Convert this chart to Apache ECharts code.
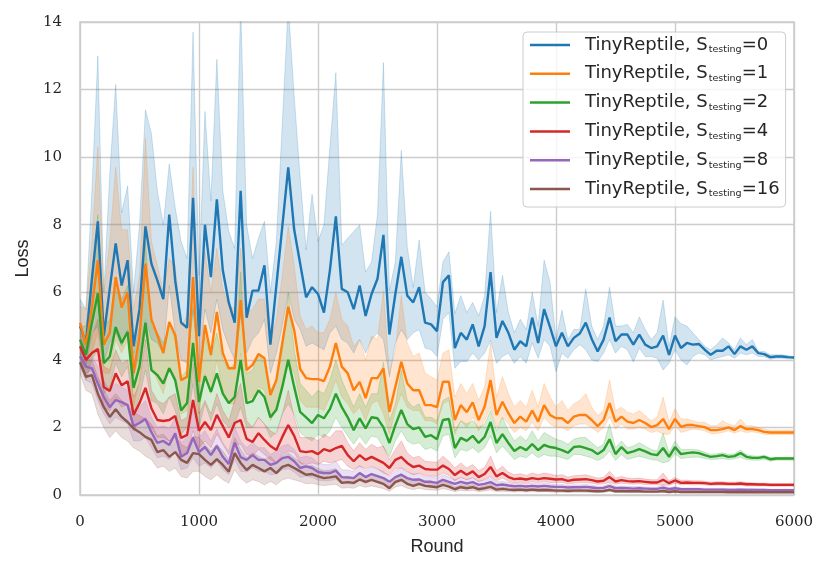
<!DOCTYPE html>
<html><head><meta charset="utf-8">
<script src="https://cdn.jsdelivr.net/npm/echarts@6/dist/echarts.min.js"></script>
<style>html,body{margin:0;padding:0;background:#fff}#c{width:830px;height:572px}</style>
</head><body><div id="c"></div>
<script>
// evaluation rounds: every 50 rounds from 0 to 6000
const rounds = Array.from({length: 121}, (_, i) => String(i * 50));
const sValues = ['0', '1', '2', '4', '8', '16'];
const colors = ['#1f77b4', '#ff7f0e', '#2ca02c', '#d62728', '#9467bd', '#8c564b'];
const xTicks = ['0', '1000', '2000', '3000', '4000', '5000', '6000'];
const yTicks = [0, 2, 4, 6, 8, 10, 12, 14];

// S_testing = 0
const mean0 = [5.0,4.5,6.4,8.1,4.7,6.1,7.45,6.2,6.95,4.4,
 5.5,7.95,6.85,6.35,5.8,8.3,6.35,5.1,4.95,8.8,
 4.7,8.0,6.45,8.75,6.65,5.7,5.1,9.0,5.25,6.05,
 6.05,6.8,4.45,6.2,7.95,9.7,7.85,6.85,5.85,6.15,
 5.95,5.4,6.65,8.25,6.1,6.0,5.5,6.2,5.3,5.95,
 6.4,7.7,4.75,5.95,7.05,5.9,5.7,6.15,5.1,5.05,
 4.85,6.3,6.5,4.35,4.8,4.6,5.05,4.4,5.0,6.6,
 4.65,5.15,4.8,4.3,4.55,4.4,5.25,4.5,5.5,4.97,
 4.4,4.8,4.4,4.65,4.78,5.1,4.62,4.25,4.6,5.25,
 4.55,4.75,4.75,4.45,4.75,4.45,4.35,4.4,4.72,4.15,
 4.72,4.35,4.5,4.45,4.47,4.3,4.15,4.27,4.27,4.4,
 4.17,4.4,4.3,4.4,4.2,4.17,4.08,4.1,4.1,4.08,
 4.07];
const high0 = [5.8,5.5,9.0,13.0,6.0,9.5,12.15,8.35,9.15,6.0,
 8.0,11.4,10.7,9.0,8.0,9.8,8.5,7.5,7.0,13.7,
 6.5,11.35,8.7,12.9,9.0,7.8,7.3,14.5,8.0,7.0,
 7.6,8.1,6.0,7.5,11.0,14.5,11.8,9.4,7.25,8.9,
 7.5,8.0,10.3,12.5,7.4,7.6,7.8,8.0,6.6,6.9,
 8.3,12.8,6.05,6.9,10.2,7.35,6.15,7.55,6.0,5.8,
 5.57,6.9,7.2,5.37,5.9,5.4,5.7,5.3,5.9,8.4,
 5.4,6.5,5.4,4.8,5.2,4.9,6.0,5.0,6.95,6.3,
 4.6,5.47,4.6,4.9,4.9,6.1,5.0,4.6,5.0,6.15,
 5.0,5.0,5.05,4.8,5.27,4.9,4.6,4.8,5.77,4.4,
 5.27,5.07,5.0,4.8,4.6,4.4,4.3,4.45,4.65,4.5,
 4.3,4.65,4.45,4.6,4.25,4.25,4.15,4.15,4.15,4.12,
 4.1];
const low0 = [4.3,3.8,4.8,5.0,3.9,4.5,4.8,4.4,4.9,3.5,
 4.2,5.2,4.6,4.5,4.2,6.2,4.8,4.0,3.9,5.5,
 3.8,5.5,4.8,5.8,4.9,4.4,4.0,5.3,4.2,4.6,
 4.8,5.2,3.6,4.2,5.0,6.0,5.2,4.9,4.4,4.5,
 4.4,4.3,4.8,5.0,4.6,4.5,4.2,4.6,4.2,4.6,
 4.8,4.6,3.5,4.5,4.9,4.6,4.8,4.9,4.35,4.3,
 4.1,5.2,5.4,3.75,3.95,3.95,4.2,4.0,4.2,4.58,
 3.9,4.1,4.2,3.9,4.1,3.9,4.5,4.05,4.6,4.4,
 3.65,4.2,4.05,4.3,4.45,4.3,4.0,3.95,4.2,4.6,
 4.2,4.4,4.3,3.94,4.35,4.1,4.1,4.05,3.7,3.9,
 4.3,4.0,3.85,4.1,4.2,4.15,4.0,4.05,4.1,4.15,
 4.05,4.2,4.15,4.2,4.1,4.1,4.02,4.05,4.05,4.03,
 4.03];

// S_testing = 1
const mean1 = [5.1,4.45,5.55,6.95,4.45,4.8,6.45,5.55,6.0,3.6,
 4.68,6.85,5.2,4.73,4.2,5.12,4.73,3.4,3.5,6.45,
 3.35,5.03,4.15,5.42,4.2,3.75,3.75,5.77,3.7,3.85,
 4.17,4.05,2.96,3.4,4.5,5.57,4.88,3.73,3.46,3.43,
 3.43,3.37,3.8,4.5,3.8,3.6,3.1,3.35,2.87,3.46,
 3.46,3.75,2.46,3.2,3.94,3.3,3.1,3.1,2.66,2.66,
 2.6,3.35,3.35,2.22,2.66,2.45,2.74,2.22,2.61,3.4,
 2.37,2.76,2.42,2.13,2.32,2.17,2.5,2.17,2.66,2.37,
 2.27,2.27,2.13,2.32,2.37,2.37,2.22,2.04,2.22,2.72,
 2.17,2.32,2.17,2.13,2.22,2.13,2.01,2.07,2.25,1.95,
 2.25,2.02,2.07,2.07,2.04,2.01,1.92,1.92,1.95,2.0,
 1.92,2.04,1.95,1.95,1.92,1.87,1.85,1.85,1.85,1.85,
 1.85];
const high1 = [5.6,5.5,7.5,10.3,6.0,7.5,9.7,7.85,7.85,5.5,
 6.5,10.55,7.5,6.8,6.0,7.0,6.8,5.0,5.3,9.7,
 4.8,7.2,6.0,7.3,6.1,5.6,5.5,7.3,5.4,5.5,
 5.8,5.8,4.5,5.2,6.5,7.95,6.8,5.3,4.9,5.0,
 4.8,4.8,5.2,6.0,5.2,5.0,4.4,4.6,4.0,4.7,
 4.6,6.05,3.6,4.3,5.9,4.5,4.1,4.2,3.6,3.5,
 3.4,4.2,4.3,2.9,3.3,3.0,3.3,2.8,3.2,4.5,
 2.9,3.5,3.0,2.6,2.8,2.6,3.1,2.6,3.3,2.9,
 2.6,2.8,2.5,2.7,2.8,3.0,2.6,2.35,2.5,3.4,
 2.5,2.6,2.45,2.4,2.5,2.35,2.2,2.3,2.9,2.15,
 2.55,2.25,2.25,2.2,2.15,2.15,2.05,2.05,2.2,2.1,
 2.05,2.25,2.05,2.05,2.0,1.95,1.92,1.92,1.92,1.92,
 1.92];
const low1 = [4.5,3.9,4.2,4.8,3.6,3.6,4.6,4.2,4.6,2.6,
 3.4,4.8,3.8,3.4,3.0,3.8,3.5,2.4,2.5,4.3,
 2.4,3.6,3.0,4.0,3.1,2.7,2.7,4.2,2.8,2.9,
 3.2,3.1,2.2,2.5,3.3,3.9,3.6,2.8,2.6,2.6,
 2.6,2.5,2.9,3.4,2.9,2.7,2.4,2.6,2.2,2.7,
 2.8,2.4,1.8,2.5,3.0,2.6,2.5,2.5,2.2,2.2,
 2.1,2.7,2.8,1.8,2.2,2.0,2.3,1.9,2.2,2.6,
 2.0,2.3,2.1,1.85,2.0,1.9,2.15,1.9,2.3,2.1,
 2.0,2.0,1.9,2.05,2.1,2.1,2.0,1.85,2.0,2.3,
 1.95,2.1,1.95,1.95,2.0,1.95,1.85,1.9,1.8,1.8,
 2.05,1.85,1.9,1.95,1.93,1.9,1.82,1.82,1.85,1.9,
 1.83,1.9,1.85,1.87,1.84,1.8,1.79,1.79,1.79,1.79,
 1.79];

// S_testing = 2
const mean2 = [4.6,4.15,5.1,5.97,3.9,4.1,4.97,4.5,4.83,3.17,
 3.8,5.1,3.7,3.55,3.3,3.75,3.4,2.5,2.72,4.5,
 2.75,3.52,3.05,3.6,3.0,2.72,2.9,4.0,2.72,2.78,
 3.1,2.9,2.3,2.52,3.2,4.0,3.2,2.46,2.3,2.13,
 2.37,2.27,2.54,3.0,2.6,2.3,1.92,2.27,1.97,2.3,
 2.27,2.0,1.54,2.07,2.52,2.1,1.95,2.0,1.72,1.77,
 1.65,2.22,2.25,1.39,1.69,1.6,1.75,1.54,1.72,2.16,
 1.54,1.8,1.54,1.3,1.42,1.33,1.51,1.33,1.48,1.42,
 1.39,1.33,1.25,1.42,1.44,1.39,1.33,1.21,1.33,1.65,
 1.21,1.42,1.24,1.29,1.36,1.29,1.21,1.18,1.39,1.13,
 1.42,1.21,1.24,1.26,1.24,1.18,1.13,1.15,1.18,1.13,
 1.15,1.24,1.13,1.1,1.1,1.13,1.06,1.08,1.08,1.08,
 1.08];
const high2 = [5.0,5.0,6.5,8.3,5.0,5.2,6.4,5.8,6.2,4.2,
 5.0,7.5,5.0,4.8,4.5,5.0,4.6,3.5,3.7,5.6,
 3.7,4.7,4.1,4.8,4.0,3.7,3.9,6.6,3.6,3.7,
 4.2,3.9,3.1,3.4,4.3,5.97,4.3,3.3,3.1,2.9,
 3.1,3.0,3.4,4.0,3.4,3.0,2.6,3.0,2.6,3.0,
 3.0,3.93,2.2,2.7,3.7,2.8,2.6,2.7,2.3,2.3,
 2.2,2.8,2.9,1.9,2.2,2.1,2.2,2.0,2.1,2.5,
 1.9,2.3,1.9,1.6,1.75,1.6,1.9,1.6,1.85,1.75,
 1.65,1.6,1.5,1.65,1.7,1.7,1.55,1.4,1.5,2.1,
 1.4,1.6,1.4,1.45,1.55,1.45,1.35,1.3,1.83,1.25,
 1.6,1.35,1.35,1.35,1.33,1.27,1.2,1.22,1.25,1.2,
 1.22,1.33,1.2,1.16,1.15,1.18,1.11,1.12,1.12,1.12,
 1.12];
const low2 = [4.2,3.4,4.0,4.3,3.0,3.2,3.9,3.5,3.8,2.4,
 2.9,3.7,2.8,2.7,2.4,2.9,2.5,1.8,2.0,3.3,
 2.0,2.7,2.2,2.7,2.2,2.0,2.1,2.6,2.0,2.0,
 2.3,2.1,1.7,1.85,2.4,2.7,2.4,1.85,1.7,1.6,
 1.8,1.7,1.9,2.3,2.0,1.75,1.5,1.75,1.5,1.75,
 1.7,1.4,1.13,1.6,1.9,1.6,1.5,1.55,1.35,1.4,
 1.3,1.75,1.8,1.1,1.35,1.3,1.4,1.25,1.4,1.75,
 1.25,1.45,1.25,1.05,1.15,1.1,1.25,1.1,1.2,1.15,
 1.15,1.1,1.05,1.2,1.2,1.15,1.1,1.02,1.1,1.3,
 1.02,1.2,1.05,1.1,1.15,1.1,1.05,1.03,0.95,1.0,
 1.22,1.08,1.1,1.12,1.12,1.08,1.05,1.06,1.08,1.05,
 1.07,1.12,1.05,1.03,1.03,1.06,1.0,1.03,1.03,1.03,
 1.03];

// S_testing = 4
const mean3 = [4.4,4.0,4.2,4.32,3.2,3.08,3.6,3.25,3.37,2.37,
 2.72,3.17,2.57,2.22,2.19,2.22,2.34,1.69,1.78,2.81,
 1.9,2.16,1.92,2.37,2.04,1.7,2.13,2.22,1.66,1.57,
 1.83,1.63,1.45,1.33,1.72,2.07,1.75,1.3,1.27,1.3,
 1.21,1.36,1.3,1.39,1.45,1.18,1.0,1.18,1.04,1.13,
 1.04,0.95,0.8,1.04,1.12,0.95,0.83,0.87,0.77,0.75,
 0.75,0.87,0.77,0.59,0.72,0.6,0.7,0.53,0.62,0.83,
 0.55,0.65,0.53,0.47,0.49,0.46,0.5,0.47,0.5,0.48,
 0.46,0.47,0.42,0.45,0.46,0.47,0.44,0.4,0.42,0.53,
 0.4,0.44,0.41,0.4,0.41,0.39,0.37,0.37,0.45,0.35,
 0.43,0.36,0.37,0.36,0.36,0.35,0.33,0.34,0.34,0.33,
 0.33,0.34,0.32,0.32,0.31,0.31,0.3,0.3,0.3,0.3,
 0.3];
const high3 = [4.8,4.4,4.7,5.2,3.8,3.7,4.3,3.9,4.0,2.9,
 3.3,4.6,3.1,2.8,2.7,2.9,3.0,2.2,2.3,3.9,
 2.4,2.8,2.4,3.0,2.5,2.2,2.8,3.3,2.2,2.0,
 2.3,2.1,1.9,1.8,2.4,3.1,2.3,1.7,1.7,1.7,
 1.6,1.8,1.7,1.9,1.9,1.55,1.3,1.55,1.35,1.5,
 1.4,1.45,1.05,1.35,1.6,1.25,1.1,1.15,1.0,0.98,
 0.97,1.15,1.0,0.8,0.95,0.8,0.9,0.72,0.82,1.15,
 0.72,0.85,0.68,0.6,0.63,0.58,0.65,0.6,0.65,0.62,
 0.58,0.6,0.53,0.57,0.58,0.6,0.55,0.5,0.52,0.7,
 0.5,0.55,0.5,0.49,0.5,0.47,0.45,0.45,0.65,0.42,
 0.52,0.43,0.44,0.42,0.42,0.41,0.38,0.39,0.39,0.38,
 0.38,0.39,0.37,0.36,0.35,0.35,0.34,0.34,0.34,0.34,
 0.34];
const low3 = [4.0,3.6,3.7,3.5,2.6,2.5,2.9,2.6,2.7,1.9,
 2.2,2.3,2.0,1.7,1.7,1.6,1.7,1.2,1.3,1.9,
 1.4,1.6,1.4,1.8,1.5,1.2,1.5,1.5,1.2,1.15,
 1.35,1.2,1.05,0.95,1.2,1.3,1.25,0.95,0.9,0.95,
 0.9,1.0,0.95,1.0,1.05,0.85,0.75,0.85,0.78,0.85,
 0.78,0.65,0.58,0.78,0.8,0.7,0.6,0.65,0.58,0.56,
 0.55,0.65,0.58,0.42,0.53,0.45,0.52,0.4,0.46,0.55,
 0.42,0.5,0.41,0.36,0.38,0.36,0.39,0.37,0.39,0.37,
 0.36,0.37,0.33,0.35,0.36,0.36,0.35,0.32,0.33,0.38,
 0.32,0.35,0.33,0.32,0.33,0.31,0.3,0.3,0.3,0.29,
 0.35,0.3,0.31,0.3,0.3,0.3,0.28,0.29,0.29,0.28,
 0.28,0.29,0.27,0.27,0.27,0.27,0.26,0.26,0.26,0.26,
 0.26];

// S_testing = 8
const mean4 = [4.1,3.8,3.75,3.3,2.9,2.6,2.81,2.75,2.66,2.04,
 2.13,2.25,1.86,1.54,1.6,1.48,1.83,1.13,1.24,1.7,
 1.27,1.42,1.18,1.45,1.13,0.92,1.55,1.12,1.04,1.18,
 1.04,1.04,0.89,0.95,1.09,1.13,1.0,0.8,0.85,0.8,
 0.68,0.65,0.65,0.72,0.53,0.52,0.5,0.65,0.53,0.62,
 0.56,0.5,0.39,0.53,0.6,0.5,0.45,0.46,0.39,0.39,
 0.36,0.45,0.39,0.33,0.39,0.34,0.38,0.3,0.33,0.38,
 0.29,0.31,0.28,0.26,0.27,0.25,0.27,0.25,0.27,0.25,
 0.24,0.24,0.22,0.23,0.23,0.24,0.22,0.2,0.21,0.26,
 0.2,0.21,0.2,0.19,0.2,0.19,0.18,0.18,0.22,0.17,
 0.2,0.17,0.17,0.17,0.17,0.16,0.16,0.16,0.16,0.15,
 0.15,0.16,0.15,0.15,0.15,0.15,0.14,0.14,0.14,0.14,
 0.14];
const high4 = [4.3,4.1,4.1,3.8,3.4,3.1,3.3,3.2,3.1,2.5,
 2.6,2.8,2.3,2.0,2.05,1.95,2.3,1.55,1.7,2.5,
 1.7,1.9,1.6,1.95,1.55,1.3,2.0,1.6,1.4,1.55,
 1.4,1.4,1.2,1.3,1.45,1.5,1.35,1.1,1.15,1.1,
 0.95,0.9,0.9,1.0,0.75,0.74,0.7,0.88,0.73,0.83,
 0.76,0.7,0.55,0.72,0.8,0.68,0.62,0.63,0.54,0.54,
 0.5,0.6,0.53,0.45,0.52,0.46,0.5,0.41,0.44,0.52,
 0.39,0.41,0.37,0.34,0.35,0.33,0.35,0.33,0.35,0.33,
 0.31,0.31,0.29,0.3,0.3,0.31,0.29,0.26,0.27,0.34,
 0.26,0.27,0.26,0.25,0.26,0.24,0.23,0.23,0.3,0.22,
 0.25,0.21,0.21,0.21,0.21,0.2,0.2,0.2,0.2,0.19,
 0.19,0.2,0.19,0.19,0.18,0.18,0.17,0.17,0.17,0.17,
 0.17];
const low4 = [3.8,3.4,3.3,2.8,2.4,2.1,2.3,2.2,2.1,1.6,
 1.6,1.7,1.4,1.1,1.15,1.05,1.3,0.75,0.8,1.1,
 0.85,0.95,0.8,1.0,0.75,0.6,1.05,0.7,0.68,0.8,
 0.7,0.7,0.6,0.62,0.75,0.78,0.68,0.52,0.56,0.52,
 0.44,0.42,0.42,0.47,0.34,0.33,0.32,0.43,0.34,0.42,
 0.37,0.32,0.25,0.35,0.4,0.33,0.29,0.3,0.25,0.25,
 0.23,0.3,0.25,0.21,0.26,0.22,0.26,0.19,0.22,0.25,
 0.19,0.21,0.19,0.18,0.19,0.17,0.19,0.17,0.19,0.17,
 0.17,0.17,0.15,0.16,0.16,0.17,0.15,0.14,0.15,0.18,
 0.14,0.15,0.14,0.13,0.14,0.13,0.13,0.13,0.14,0.12,
 0.15,0.13,0.13,0.13,0.13,0.12,0.12,0.12,0.12,0.11,
 0.11,0.12,0.11,0.11,0.11,0.11,0.11,0.11,0.11,0.11,
 0.11];

// S_testing = 16
const mean5 = [3.93,3.5,3.55,3.0,2.6,2.31,2.54,2.31,2.16,1.97,
 1.86,1.72,1.63,1.27,1.33,1.13,1.27,1.04,0.95,1.24,
 1.21,1.04,0.89,1.06,0.89,0.69,1.24,0.95,0.74,0.89,
 0.8,0.7,0.8,0.65,0.83,0.89,0.8,0.7,0.6,0.62,
 0.55,0.5,0.52,0.55,0.36,0.38,0.36,0.46,0.39,0.45,
 0.39,0.33,0.2,0.39,0.45,0.33,0.27,0.33,0.27,0.25,
 0.23,0.3,0.25,0.17,0.23,0.2,0.23,0.17,0.2,0.24,
 0.16,0.18,0.16,0.15,0.16,0.14,0.16,0.14,0.15,0.14,
 0.13,0.13,0.12,0.13,0.13,0.13,0.12,0.11,0.12,0.15,
 0.11,0.12,0.11,0.11,0.11,0.1,0.1,0.1,0.12,0.09,
 0.11,0.09,0.09,0.09,0.09,0.09,0.09,0.09,0.09,0.08,
 0.08,0.09,0.08,0.08,0.08,0.08,0.08,0.08,0.08,0.08,
 0.08];
const high5 = [4.3,4.0,4.0,3.5,3.1,2.8,3.0,2.8,2.65,2.45,
 2.35,2.25,2.1,1.75,1.8,1.6,1.75,1.5,1.4,1.75,
 1.7,1.5,1.3,1.5,1.3,1.05,1.7,1.35,1.1,1.25,
 1.15,1.05,1.15,0.95,1.15,1.25,1.1,0.98,0.85,0.88,
 0.78,0.72,0.74,0.78,0.53,0.55,0.52,0.64,0.55,0.63,
 0.55,0.47,0.3,0.54,0.62,0.46,0.38,0.45,0.37,0.35,
 0.32,0.4,0.34,0.24,0.31,0.27,0.31,0.23,0.27,0.32,
 0.22,0.24,0.21,0.2,0.21,0.19,0.21,0.19,0.2,0.19,
 0.17,0.17,0.16,0.17,0.17,0.17,0.16,0.14,0.15,0.19,
 0.14,0.15,0.14,0.14,0.14,0.13,0.13,0.13,0.16,0.12,
 0.14,0.12,0.12,0.12,0.12,0.11,0.11,0.11,0.11,0.1,
 0.1,0.11,0.1,0.1,0.1,0.1,0.1,0.1,0.1,0.1,
 0.1];
const low5 = [3.6,3.1,3.0,2.4,2.0,1.7,1.9,1.7,1.6,1.4,
 1.3,1.15,1.05,0.8,0.85,0.7,0.8,0.55,0.5,0.7,
 0.7,0.55,0.45,0.6,0.45,0.35,0.75,0.5,0.35,0.45,
 0.4,0.3,0.4,0.3,0.45,0.5,0.45,0.4,0.33,0.35,
 0.3,0.28,0.3,0.32,0.2,0.22,0.2,0.28,0.23,0.27,
 0.23,0.19,0.11,0.24,0.28,0.2,0.16,0.2,0.16,0.15,
 0.14,0.19,0.15,0.1,0.14,0.12,0.14,0.1,0.12,0.15,
 0.1,0.11,0.1,0.09,0.1,0.09,0.1,0.09,0.1,0.09,
 0.08,0.08,0.08,0.08,0.08,0.08,0.08,0.07,0.08,0.1,
 0.07,0.08,0.07,0.07,0.07,0.07,0.07,0.07,0.08,0.06,
 0.07,0.06,0.06,0.06,0.06,0.06,0.06,0.06,0.06,0.06,
 0.06,0.06,0.06,0.06,0.06,0.06,0.06,0.06,0.06,0.06,
 0.06];

const means = [mean0, mean1, mean2, mean3, mean4, mean5];
const highs = [high0, high1, high2, high3, high4, high5];
const lows = [low0, low1, low2, low3, low4, low5];
[...means, ...highs, ...lows].forEach((a, i) => {
  if (a.length !== rounds.length) throw new Error('array ' + i + ' has length ' + a.length);
});

const names = sValues.map(s => 'TinyReptile, S_testing=' + s);
const isTick = (idx, value) => xTicks.indexOf(String(value !== undefined ? value : rounds[idx])) >= 0;

const series = [];
means.forEach((m, k) => {
  series.push({
    name: 'lo' + k, type: 'line', stack: 'band' + k, silent: true, z: 1,
    symbol: 'none', animation: false,
    data: lows[k],
    lineStyle: {color: colors[k], width: 0.8, opacity: 0.25}
  });
  series.push({
    name: 'band' + k, type: 'line', stack: 'band' + k, silent: true, z: 1,
    symbol: 'none', animation: false,
    data: highs[k].map((h, i) => +(h - lows[k][i]).toFixed(4)),
    lineStyle: {color: colors[k], width: 0.8, opacity: 0.25},
    areaStyle: {color: colors[k], opacity: 0.2}
  });
});
means.forEach((m, k) => {
  series.push({
    name: names[k], type: 'line', z: 3, symbol: 'none', animation: false,
    data: m,
    lineStyle: {color: colors[k], width: 2.4},
    itemStyle: {color: colors[k]}
  });
});

const chart = echarts.init(document.getElementById('c'), null, {renderer: 'canvas'});
chart.setOption({
  animation: false,
  backgroundColor: '#ffffff',
  grid: {left: 80, right: 36, top: 22, bottom: 77, show: true,
         borderColor: '#cccccc', borderWidth: 1.6, backgroundColor: 'transparent'},
  xAxis: {
    type: 'category', data: rounds, boundaryGap: false,
    name: 'Round', nameLocation: 'middle', nameGap: 43,
    nameTextStyle: {fontFamily: 'Liberation Sans', fontSize: 18, color: '#262626'},
    axisLine: {show: false}, axisTick: {show: false},
    axisLabel: {fontFamily: 'DejaVu Serif', fontSize: 15, color: '#262626', margin: 20,
                interval: (idx, value) => isTick(idx, value)},
    splitLine: {show: true, interval: (idx, value) => isTick(idx, value),
                lineStyle: {color: '#cccccc', width: 1.4}}
  },
  yAxis: {
    type: 'value', min: yTicks[0], max: yTicks[yTicks.length - 1], interval: 2,
    name: 'Loss', nameLocation: 'middle', nameGap: 43, nameRotate: 90,
    nameTextStyle: {fontFamily: 'Liberation Sans', fontSize: 18, color: '#262626'},
    axisLine: {show: false}, axisTick: {show: false},
    axisLabel: {fontFamily: 'DejaVu Serif', fontSize: 15, color: '#262626', margin: 18},
    splitLine: {show: true, lineStyle: {color: '#cccccc', width: 1.4}}
  },
  legend: {
    data: names, orient: 'vertical', left: 523, top: 32,
    icon: 'rect', itemWidth: 40, itemHeight: 2.5, itemGap: 8.8,
    padding: [3, 6, 8, 7],
    backgroundColor: 'rgba(255,255,255,0.8)', borderColor: '#cccccc', borderWidth: 1, borderRadius: 4,
    formatter: name => '{a|TinyReptile, S}{b|testing}{c|=' + sValues[names.indexOf(name)] + '}',
    textStyle: {
      color: '#262626', fontFamily: 'DejaVu Sans', fontSize: 18,
      rich: {
        a: {fontFamily: 'DejaVu Sans', fontSize: 18, lineHeight: 22, color: '#262626', padding: [0, 0, 0, 10]},
        b: {fontFamily: 'DejaVu Sans', fontSize: 9.5, lineHeight: 12, color: '#262626', padding: [10, 0, 0, 1]},
        c: {fontFamily: 'DejaVu Sans', fontSize: 18, lineHeight: 22, color: '#262626'}
      }
    }
  },
  series: series
});
</script>
</body></html>
